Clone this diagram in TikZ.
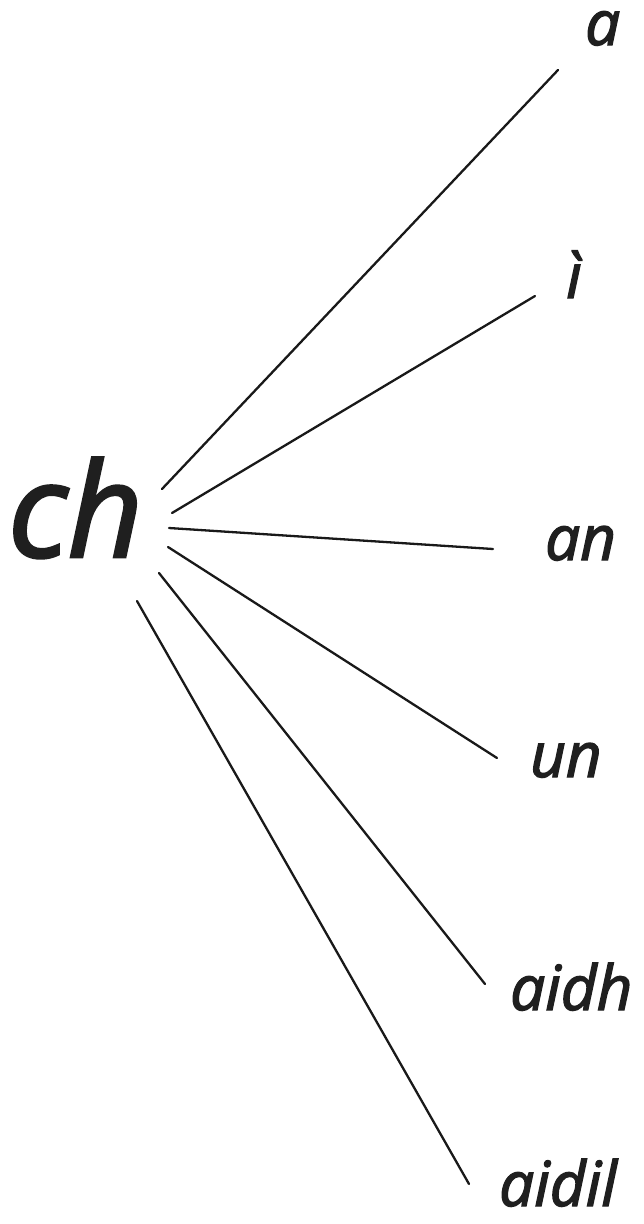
\documentclass[tikz,border=0pt]{standalone}
\usepackage{fontspec}
\setmainfont{Open Sans}
\newfontfamily\handfont{Open Sans Italic}[FakeBold=2.2]
\begin{document}
\begin{tikzpicture}[x=1pt,y=-1pt,
  word/.style={anchor=base west,inner sep=0pt,text depth=0pt,text=black!88,font=\handfont\fontsize{62}{62}\selectfont},
  big/.style={anchor=base west,inner sep=0pt,text=black!88,font=\handfont\fontsize{131}{131}\selectfont},
  ray/.style={line width=2.3pt,black!90,line cap=round}]
\useasboundingbox (0,0) rectangle (644,1224);
\node[big] (ch) at (8,557) {ch};
\node[word] (a) at (585,45) {a};
\node[word] (i) at (566,298) {ì};
\node[word] (an) at (545,560) {an};
\node[word] (un) at (530,777) {un};
\node[word] (aidh) at (510,1010) {aidh};
\node[word] (aidil) at (499,1206) {aidil};
\coordinate (s1) at (162,489);
\coordinate (s2) at (172,513);
\coordinate (s3) at (169,528);
\coordinate (s4) at (168,547);
\coordinate (s5) at (159,573);
\coordinate (s6) at (137,601);
\coordinate (e1) at (558,70);
\coordinate (e2) at (535,296);
\coordinate (e3) at (493,549);
\coordinate (e4) at (497,758);
\coordinate (e5) at (485,984);
\coordinate (e6) at (469,1184);
\foreach \k in {1,...,6} \draw[ray] (s\k) -- (e\k);
\end{tikzpicture}
\end{document}
